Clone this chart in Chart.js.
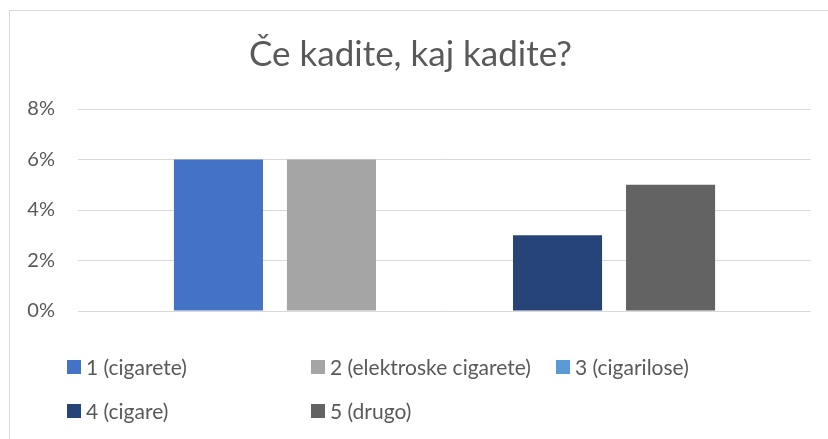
<!DOCTYPE html>
<html>
<head>
<meta charset="utf-8">
<script src="https://cdn.jsdelivr.net/npm/chart.js@4.4.1/dist/chart.umd.min.js"></script>
<style>
    html, body { margin: 0; padding: 0; background: #fff; }
    #wrap { width: 828px; height: 439px; position: relative; }
</style>
</head>
<body>
<div id="wrap"><canvas id="myChart"></canvas></div>
<script>
const categories = [''];
const seriesNames = ['1 (cigarete)', '2 (elektroske cigarete)', '3 (cigarilose)', '4 (cigare)', '5 (drugo)'];
const seriesValues = [[0.06], [0.06], [0], [0.03], [0.05]];
const seriesColors = ['#4472C4', '#A5A5A5', '#5B9BD5', '#264478', '#636363'];
const yTicks = [0, 0.02, 0.04, 0.06, 0.08];

const FONT = 'Lato, "Open Sans", sans-serif';
const TEXT = '#595959';

// legend laid out in a fixed grid like the original
const gridLegend = {
    id: 'gridLegend',
    afterDraw(chart) {
        const ctx = chart.ctx;
        const cols = [67, 311, 556];
        const rows = [367, 411];
        ctx.save();
        ctx.font = '21px ' + FONT;
        ctx.textBaseline = 'middle';
        chart.data.datasets.forEach((ds, i) => {
            const x = cols[i < 3 ? i : i - 3];
            const y = rows[i < 3 ? 0 : 1];
            ctx.fillStyle = ds.backgroundColor;
            ctx.fillRect(x, y - 7, 14, 14);
            ctx.fillStyle = TEXT;
            ctx.fillText(ds.label, x + 19, y + 1);
        });
        ctx.restore();
    }
};

const frame = {
    id: 'frame',
    beforeDraw(chart) {
        const ctx = chart.ctx;
        ctx.save();
        ctx.strokeStyle = '#D9D9D9';
        ctx.lineWidth = 1;
        ctx.strokeRect(9.5, 10.5, 900, 500);
        ctx.restore();
    }
};

let myChart = document.getElementById('myChart').getContext('2d');

let smokeChart = new Chart(myChart, {
    type: 'bar',
    data: {
        labels: categories,
        datasets: seriesNames.map((name, i) => ({
            label: name,
            data: seriesValues[i],
            backgroundColor: seriesColors[i],
            borderWidth: 0,
            categoryPercentage: 0.771,
            barPercentage: 0.788,
        }))
    },
    options: {
        responsive: true,
        maintainAspectRatio: false,
        animation: false,
        layout: {
            padding: { left: 10, right: 17, top: 10, bottom: 128 }
        },
        plugins: {
            legend: { display: false },
            tooltip: { enabled: false },
            title: {
                display: true,
                text: 'Če kadite, kaj kadite?',
                color: TEXT,
                font: { family: FONT, size: 35, weight: 'normal', lineHeight: 1.2 },
                padding: { top: 24, bottom: 33 }
            }
        },
        scales: {
            x: {
                display: false,
                grid: { display: false }
            },
            y: {
                min: 0,
                max: 0.08,
                afterBuildTicks: (scale) => {
                    scale.ticks = yTicks.map(v => ({ value: v }));
                },
                afterFit: (scale) => { scale.width = 68; },
                border: { display: false },
                grid: { color: '#D9D9D9', lineWidth: 1, drawTicks: false },
                ticks: {
                    color: TEXT,
                    padding: 23,
                    font: { family: FONT, size: 20 },
                    callback: (v) => Math.round(v * 100) + '%'
                }
            }
        }
    },
    plugins: [frame, gridLegend]
});
</script>
</body>
</html>
